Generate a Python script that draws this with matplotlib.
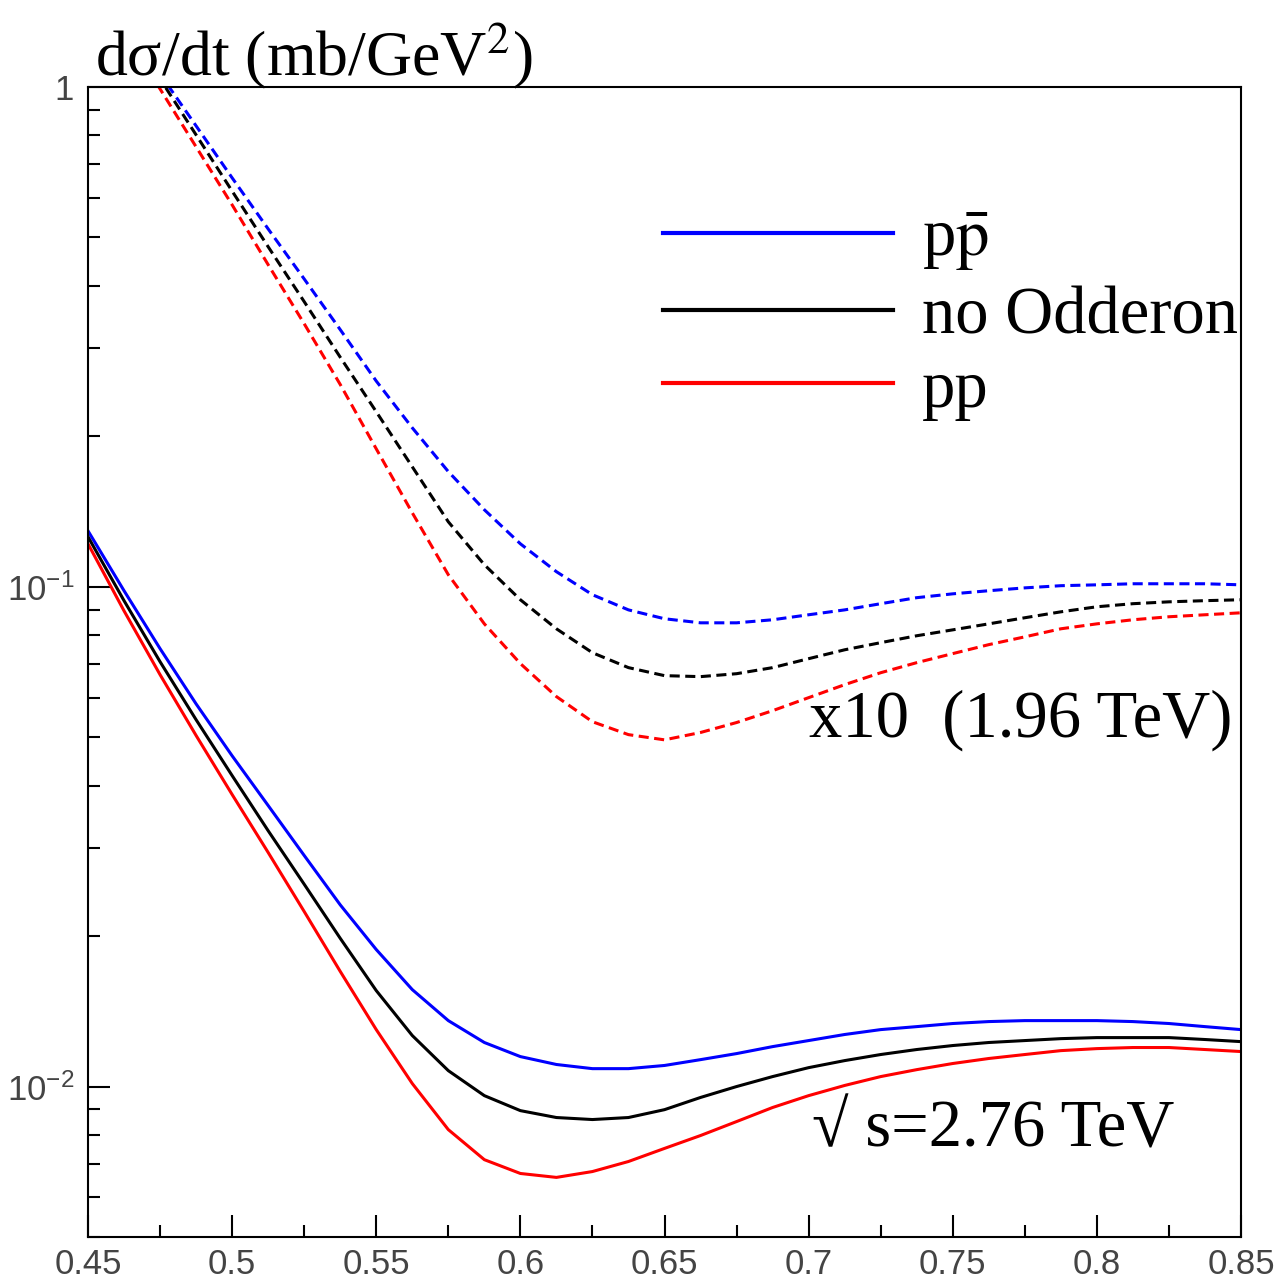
import numpy as np
import matplotlib.pyplot as plt
from matplotlib.ticker import MultipleLocator, LogLocator, NullFormatter, FuncFormatter

plt.rcParams['font.family'] = ['Liberation Sans', 'DejaVu Sans']
plt.rcParams['mathtext.fontset'] = 'custom'
plt.rcParams['mathtext.rm'] = 'Liberation Sans'
plt.rcParams['mathtext.it'] = 'Liberation Sans:italic'

# ---------------- data: sqrt(s) = 2.76 TeV (solid) ----------------
t = [0.45, 0.4625, 0.475, 0.4875, 0.5, 0.5125, 0.525, 0.5375, 0.55, 0.5625, 0.575,
     0.5875, 0.6, 0.6125, 0.625, 0.6375, 0.65, 0.6625, 0.675, 0.6875, 0.7, 0.7125,
     0.725, 0.7375, 0.75, 0.7625, 0.775, 0.7875, 0.8, 0.8125, 0.825, 0.8375, 0.85]
ppbar_276 = [0.1294, 0.0982, 0.0752, 0.0583, 0.0459, 0.0365, 0.0290, 0.0231, 0.0188, 0.01563, 0.01355,
             0.01225, 0.01148, 0.01107, 0.01086, 0.01086, 0.01102, 0.01132, 0.01164, 0.01202, 0.01236, 0.01271,
             0.01300, 0.01318, 0.01337, 0.01349, 0.01355, 0.01355, 0.01355, 0.01349, 0.01337, 0.01318, 0.01300]
noodd_276 = [0.1259, 0.0938, 0.0708, 0.0542, 0.0419, 0.0325, 0.0254, 0.0198, 0.01556, 0.01265, 0.01076,
             0.00959, 0.00895, 0.00867, 0.00859, 0.00867, 0.00899, 0.00951, 0.01000, 0.01047, 0.01091, 0.01127,
             0.01159, 0.01186, 0.01208, 0.01225, 0.01236, 0.01247, 0.01253, 0.01253, 0.01253, 0.01242, 0.01230]
pp_276 = [0.1219, 0.0895, 0.0667, 0.0504, 0.0384, 0.0294, 0.0224, 0.0170, 0.01300, 0.01014, 0.00820,
          0.00714, 0.00670, 0.00658, 0.00676, 0.00708, 0.00752, 0.00798, 0.00851, 0.00908, 0.00959, 0.01005,
          0.01047, 0.01081, 0.01112, 0.01138, 0.01159, 0.01180, 0.01191, 0.01197, 0.01197, 0.01186, 0.01175]

# ---------------- data: sqrt(s) = 1.96 TeV (dashed, drawn x10) ----------------
t_196 = [0.4625, 0.475, 0.4875, 0.5, 0.5125, 0.525, 0.5375, 0.55, 0.5625, 0.575,
         0.5875, 0.6, 0.6125, 0.625, 0.6375, 0.65, 0.6625, 0.675, 0.6875, 0.7, 0.7125,
         0.725, 0.7375, 0.75, 0.7625, 0.775, 0.7875, 0.8, 0.8125, 0.825, 0.8375, 0.85]
ppbar_196 = [0.1361, 0.1062, 0.0836, 0.0658, 0.0520, 0.0413, 0.0327, 0.0258, 0.0208, 0.0170,
             0.01426, 0.01219, 0.01072, 0.00964, 0.00899, 0.00863, 0.00847, 0.00847, 0.00859, 0.00879, 0.00899,
             0.00925, 0.00951, 0.00968, 0.00982, 0.00995, 0.01005, 0.01009, 0.01014, 0.01014, 0.01014, 0.01009]
noodd_196 = [0.1349, 0.1038, 0.0802, 0.0619, 0.0479, 0.0372, 0.0288, 0.0224, 0.01738, 0.01349,
             0.01107, 0.00942, 0.00824, 0.00738, 0.00689, 0.00664, 0.00661, 0.00670, 0.00689, 0.00718, 0.00748,
             0.00773, 0.00798, 0.00820, 0.00843, 0.00867, 0.00891, 0.00912, 0.00925, 0.00933, 0.00938, 0.00942]
pp_196 = [0.1288, 0.0991, 0.0759, 0.0581, 0.0441, 0.0336, 0.0254, 0.01888, 0.01406, 0.01057,
          0.00843, 0.00702, 0.00603, 0.00537, 0.00506, 0.00494, 0.00511, 0.00535, 0.00565, 0.00600, 0.00637,
          0.00673, 0.00705, 0.00735, 0.00766, 0.00794, 0.00824, 0.00843, 0.00859, 0.00871, 0.00879, 0.00887]
scale_196 = 10

labels = [r'p$\bar{\mathrm{p}}$', 'no Odderon', 'pp']
colors = ['#0000ff', 'black', '#ff0000']

#--------------------------------plot------------------------------------------
fig = plt.figure(figsize=(12.78, 12.83), dpi=100)
ax = fig.add_axes([88/1278, 1-1237/1283, 1153/1278, 1150/1283])

lines = []
for y, c in zip([ppbar_276, noodd_276, pp_276], colors):
    l, = ax.plot(t, y, color=c, lw=2.2)
    lines.append(l)
for y, c in zip([ppbar_196, noodd_196, pp_196], colors):
    ax.plot(t_196, np.array(y)*scale_196, color=c, lw=2.2, ls=(0, (3.3, 1.8)))

ax.set_yscale('log')
ax.set_xlim(0.45, 0.85)
ax.set_ylim(0.005, 1)

ax.xaxis.set_major_locator(MultipleLocator(0.05))
ax.xaxis.set_minor_locator(MultipleLocator(0.025))
ax.xaxis.set_major_formatter(FuncFormatter(lambda v, p: f'{v:g}'))
ax.set_yticks([0.01, 0.1, 1])
ax.set_yticklabels([r'$10^{-2}$', r'$10^{-1}$', '1'])
ax.yaxis.set_minor_locator(LogLocator(base=10, subs=range(2, 10)))
ax.yaxis.set_minor_formatter(NullFormatter())

ax.tick_params(which='both', direction='in', top=False, right=False,
               labelcolor='#444444', width=1.5)
ax.tick_params(which='major', length=16, labelsize=25)
ax.tick_params(which='minor', length=8.5)
ax.tick_params(axis='x', pad=8)
ax.tick_params(axis='y', pad=10)
for s in ax.spines.values():
    s.set_linewidth(1.5)

leg = ax.legend(lines, labels, loc='upper left', bbox_to_anchor=(0.4987, 0.8935),
                frameon=False, prop={'family': 'Liberation Serif', 'size': 48},
                handlelength=3.45, handletextpad=0.43, labelspacing=0.19,
                borderpad=0, borderaxespad=0)
for txt in leg.get_texts():
    txt.set_math_fontfamily('stix')
for ln in leg.get_lines():
    ln.set_linewidth(3)

ax.text(0.70, 0.054, 'x10  (1.96 TeV)', family='Liberation Serif', fontsize=48,
        va='center', ha='left')
ax.text(0.701, 0.0082, '√ s=2.76 TeV', family=['Liberation Serif', 'DejaVu Serif'],
        fontsize=48, va='center', ha='left')

fig.text(95/1278, 1-75/1283, 'dσ/dt (mb/GeV$^{2}$)', family='Liberation Serif',
         math_fontfamily='stix', fontsize=46, va='baseline', ha='left')

plt.savefig('out.png', dpi=100)
